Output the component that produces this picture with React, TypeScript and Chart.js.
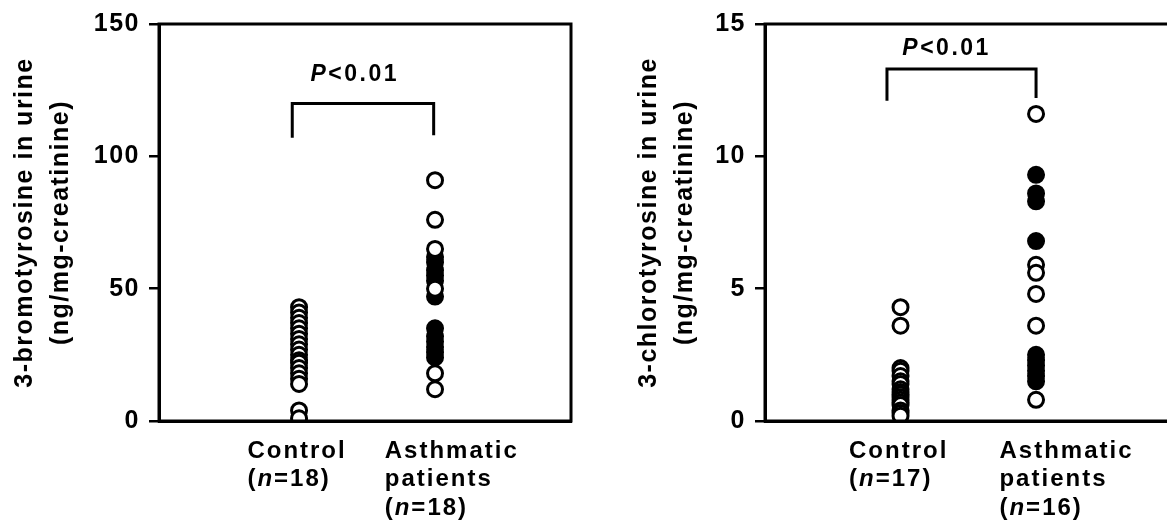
import React, { useEffect, useRef } from 'react';
import { Chart, registerables } from 'chart.js';

Chart.register(...registerables);

const FONT = "'Liberation Sans', Arial, Helvetica, sans-serif";

// x positions of the two groups
const CONTROL_X = 1;
const ASTHMA_X = 2;

// 3-bromotyrosine in urine (ng/mg-creatinine)
const bromoControl = [43, 41, 39, 37, 35, 33, 31, 29, 27, 25, 23, 22, 20, 18, 16, 14, 4, 1];
const bromoAsthmaOpen = [91, 76, 65, 50, 18, 12];
const bromoAsthmaFilled = [62, 60, 57, 55, 53, 47, 35, 32, 30, 28, 26, 24];

// 3-chlorotyrosine in urine (ng/mg-creatinine)
const chloroControl = [4.3, 3.6, 2.0, 1.9, 1.7, 1.5, 1.4, 1.2, 1.1, 1.0, 0.9, 0.8, 0.7, 0.6, 0.4, 0.3, 0.2];
const chloroAsthmaOpen = [11.6, 5.9, 5.6, 4.8, 3.6, 0.8];
const chloroAsthmaFilled = [9.3, 8.6, 8.3, 6.8, 2.5, 2.3, 2.1, 1.9, 1.7, 1.5];

// axis ranges / ticks
const bromoTicks = [0, 50, 100, 150];
const chloroTicks = [0, 5, 10, 15];

// group captions (underscored parts are set in italics)
const bromoCaptions = [
  { x: 0.62, lines: ['Control', '(_n_=18)'] },
  { x: 1.63, lines: ['Asthmatic', 'patients', '(_n_=18)'] },
];
const chloroCaptions = [
  { x: 0.62, lines: ['Control', '(_n_=17)'] },
  { x: 1.73, lines: ['Asthmatic', 'patients', '(_n_=16)'] },
];

// significance brackets, in data units
const bromoBracket = { x0: 0.95, x1: 1.99, top: 120, bottom0: 107, bottom1: 108, text: '_P_<0.01', textX: 1.41, textY: 131 };
const chloroBracket = { x0: 0.9, x1: 2.0, top: 13.3, bottom0: 12.1, bottom1: 12.2, text: '_P_<0.01', textX: 1.34, textY: 14.05 };

type Caption = { x: number; lines: string[] };
type Bracket = typeof bromoBracket;

function drawRich(ctx: CanvasRenderingContext2D, text: string, x: number, y: number, size: number, align: 'left' | 'center') {
  const parts = text.split('_');
  const fonts = parts.map((_, i) => `${i % 2 ? 'italic ' : ''}bold ${size}px ${FONT}`);
  const widths = parts.map((p, i) => {
    ctx.font = fonts[i];
    return ctx.measureText(p).width;
  });
  const total = widths.reduce((a, b) => a + b, 0);
  let cx = align === 'center' ? x - total / 2 : x;
  parts.forEach((p, i) => {
    ctx.font = fonts[i];
    ctx.fillText(p, cx, y);
    cx += widths[i];
  });
}

function annotations(captions: Caption[], bracket: Bracket) {
  return {
    id: 'annotations',
    beforeLayout(chart: any) {
      chart.ctx.letterSpacing = '1.5px';
    },
    beforeDraw(chart: any) {
      chart.ctx.letterSpacing = '1.5px';
    },
    afterDraw(chart: any) {
      const { ctx, chartArea: a, scales } = chart;
      const xs = scales.x;
      const ys = scales.y;
      ctx.save();
      ctx.strokeStyle = '#000';
      ctx.fillStyle = '#000';
      ctx.lineWidth = 3;
      // frame round the plot
      ctx.strokeRect(a.left, a.top, a.right - a.left, a.bottom - a.top);

      // significance bracket
      const bx0 = xs.getPixelForValue(bracket.x0);
      const bx1 = xs.getPixelForValue(bracket.x1);
      const bt = ys.getPixelForValue(bracket.top);
      ctx.beginPath();
      ctx.moveTo(bx0, ys.getPixelForValue(bracket.bottom0));
      ctx.lineTo(bx0, bt);
      ctx.lineTo(bx1, bt);
      ctx.lineTo(bx1, ys.getPixelForValue(bracket.bottom1));
      ctx.stroke();

      ctx.textBaseline = 'middle';
      ctx.letterSpacing = '2.5px';
      drawRich(ctx, bracket.text, xs.getPixelForValue(bracket.textX), ys.getPixelForValue(bracket.textY), 23, 'center');

      // group captions under the axis
      ctx.letterSpacing = '2px';
      captions.forEach((c) => {
        const px = xs.getPixelForValue(c.x);
        c.lines.forEach((line, i) => {
          drawRich(ctx, line, px, a.bottom + 30 + i * 28.5, 24, 'left');
        });
      });
      ctx.restore();
    },
  };
}

function makeConfig(
  control: number[],
  asthmaOpen: number[],
  asthmaFilled: number[],
  ticks: number[],
  title: string[],
  titlePad: number,
  xMin: number,
  xMax: number,
  captions: Caption[],
  bracket: Bracket
): any {
  const point = { pointRadius: 7.5, pointHoverRadius: 7.5, borderWidth: 3, borderColor: '#000', showLine: false };
  return {
    type: 'scatter',
    data: {
      datasets: [
        { ...point, order: 0, backgroundColor: '#fff', data: control.map((v) => ({ x: CONTROL_X, y: v })) },
        { ...point, order: 1, backgroundColor: '#fff', data: asthmaOpen.map((v) => ({ x: ASTHMA_X, y: v })) },
        { ...point, order: 2, backgroundColor: '#000', data: asthmaFilled.map((v) => ({ x: ASTHMA_X, y: v })) },
      ],
    },
    options: {
      responsive: false,
      animation: false,
      devicePixelRatio: 1,
      layout: { padding: { left: 0, right: 29, top: 20, bottom: 106 } },
      plugins: { legend: { display: false }, tooltip: { enabled: false } },
      scales: {
        x: {
          type: 'linear',
          min: xMin,
          max: xMax,
          ticks: { display: false },
          grid: { display: false, drawTicks: false },
          border: { display: true, color: '#000', width: 3 },
          afterFit: (s: any) => {
            s.height = 0;
          },
        },
        y: {
          type: 'linear',
          min: ticks[0],
          max: ticks[ticks.length - 1],
          afterBuildTicks: (s: any) => {
            s.ticks = ticks.map((v) => ({ value: v }));
          },
          ticks: {
            color: '#000',
            padding: 9,
            font: { family: FONT, size: 25, weight: 'bold' },
          },
          grid: { display: true, drawOnChartArea: false, drawTicks: true, tickLength: 10, color: '#000', lineWidth: 2.5 },
          border: { display: true, color: '#000', width: 3 },
          title: {
            display: true,
            text: title,
            color: '#000',
            font: { family: FONT, size: 25, weight: 'bold', lineHeight: 1.44 },
            padding: { top: titlePad, bottom: 0 },
          },
          afterFit: (s: any) => {
            s.width = 159;
          },
        },
      },
    },
    plugins: [annotations(captions, bracket)],
  };
}

export default function App() {
  const leftRef = useRef<HTMLCanvasElement>(null);
  const rightRef = useRef<HTMLCanvasElement>(null);

  useEffect(() => {
    const left = new Chart(
      leftRef.current as HTMLCanvasElement,
      makeConfig(
        bromoControl,
        bromoAsthmaOpen,
        bromoAsthmaFilled,
        bromoTicks,
        ['3-bromotyrosine in urine', '(ng/mg-creatinine)'],
        7,
        -0.03,
        3,
        bromoCaptions,
        bromoBracket
      )
    );
    const right = new Chart(
      rightRef.current as HTMLCanvasElement,
      makeConfig(
        chloroControl,
        chloroAsthmaOpen,
        chloroAsthmaFilled,
        chloroTicks,
        ['3-chlorotyrosine in urine', '(ng/mg-creatinine)'],
        25,
        0,
        3.04,
        chloroCaptions,
        chloroBracket
      )
    );
    return () => {
      left.destroy();
      right.destroy();
    };
  }, []);

  return (
    <div style={{ position: 'fixed', left: 0, top: 0, width: 1167, height: 527, overflow: 'hidden', background: '#fff' }}>
      <canvas ref={leftRef} width={600} height={527} style={{ position: 'absolute', left: 0, top: 0 }} />
      <canvas ref={rightRef} width={600} height={527} style={{ position: 'absolute', left: 606, top: 0 }} />
    </div>
  );
}
